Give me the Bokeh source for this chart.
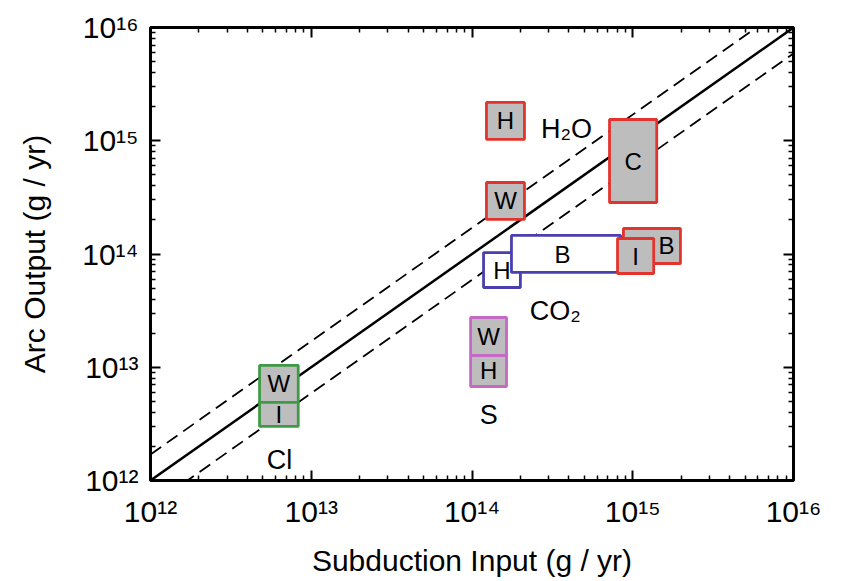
from bokeh.plotting import figure
from bokeh.models import FixedTicker, LogAxis, ColumnDataSource
from bokeh.core.properties import value
from bokeh.embed import file_html
from bokeh.resources import INLINE

# ---- axis ticks ----
decades = [1e12, 1e13, 1e14, 1e15, 1e16]
tick_labels = ["10¹²", "10¹³", "10¹⁴", "10¹⁵", "10¹⁶"]
minor_ticks = [m * d for d in decades[:-1] for m in range(2, 10)]

# ---- reference lines (arc output = subduction input, and x/÷ 1.7) ----
line_x = [1e12, 1e16]
line_y = [1e12, 1e16]
upper_y = [1.7e12, 1.7e16]
lower_y = [5.9e11, 5.9e15]

# ---- flux boxes (subduction input range x arc output range) ----
box_group = ["Cl", "Cl", "S", "S", "H2O", "H2O", "H2O", "CO2", "CO2", "H2O", "H2O"]
box_letter = ["W", "I", "W", "H", "H", "W", "C", "H", "B", "B", "I"]
box_left = [4.77e12, 4.77e12, 9.8e13, 9.8e13, 1.23e14, 1.23e14, 7.17e14, 1.18e14, 1.76e14, 8.75e14, 8.04e14]
box_right = [8.3e12, 8.3e12, 1.64e14, 1.64e14, 2.12e14, 2.12e14, 1.41e15, 2.0e14, 8.4e14, 1.98e15, 1.35e15]
box_bottom = [4.89e12, 3.0e12, 1.27e13, 6.76e12, 1.03e15, 2.02e14, 2.85e14, 5.06e13, 6.87e13, 8.24e13, 6.73e13]
box_top = [1.04e13, 4.89e12, 2.75e13, 1.27e13, 2.18e15, 4.28e14, 1.54e15, 1.03e14, 1.46e14, 1.68e14, 1.37e14]
label_x = [6.29e12, 6.29e12, 1.27e14, 1.27e14, 1.615e14, 1.615e14, 1.005e15, 1.536e14, 3.66e14, 1.62e15, 1.04e15]
label_y = [7.13e12, 3.83e12, 1.87e13, 9.27e12, 1.50e15, 2.94e14, 6.62e14, 7.22e13, 1.0e14, 1.19e14, 9.6e13]

group_names = ["H₂O", "CO₂", "S", "Cl"]
group_x = [3.87e14, 3.30e14, 1.27e14, 6.34e12]
group_y = [1.28e15, 3.11e13, 3.75e12, 1.53e12]

edge_colors = {"Cl": "#3f9a45", "S": "#c46ac4", "H2O": "#e2342d", "CO2": "#4a3fae"}
fill_colors = {"Cl": "#bdbdbd", "S": "#bdbdbd", "H2O": "#bdbdbd", "CO2": "#ffffff"}

FONT = value("Liberation Sans")

p = figure(frame_width=643, frame_height=453,
           x_axis_type="log", y_axis_type="log",
           x_range=(1e12, 1e16), y_range=(1e12, 1e16),
           output_backend="svg", toolbar_location=None,
           min_border_left=150, min_border_right=42,
           min_border_top=27, min_border_bottom=93,
           x_axis_label="Subduction Input (g / yr)",
           y_axis_label="Arc Output (g / yr)")
p.grid.visible = False
p.outline_line_color = "black"
p.outline_line_width = 3
p.background_fill_color = "white"
p.border_fill_color = "white"

overrides = dict(zip(decades, tick_labels))


def style_axis(ax, labels=True):
    ax.ticker = FixedTicker(ticks=decades, minor_ticks=minor_ticks)
    ax.axis_line_color = None
    ax.major_tick_in = 10
    ax.major_tick_out = 0
    ax.minor_tick_in = 5
    ax.minor_tick_out = 0
    ax.major_tick_line_width = 2
    ax.minor_tick_line_width = 1.5
    ax.major_tick_line_color = "black"
    ax.minor_tick_line_color = "black"
    if labels:
        ax.major_label_overrides = overrides
        ax.major_label_text_font = "Liberation Sans"
        ax.major_label_text_font_size = "30px"
        ax.major_label_text_color = "black"
        ax.axis_label_text_font = "Liberation Sans"
        ax.axis_label_text_font_size = "30px"
        ax.axis_label_text_font_style = "normal"
        ax.axis_label_text_color = "black"
    else:
        ax.major_label_text_color = None
        ax.major_label_text_font_size = "1px"
        ax.major_label_standoff = 0


style_axis(p.xaxis[0])
style_axis(p.yaxis[0])
p.xaxis[0].major_label_standoff = 14
p.xaxis[0].axis_label_standoff = 13
p.yaxis[0].major_label_standoff = 12
p.yaxis[0].axis_label_standoff = 28

top_ax = LogAxis()
right_ax = LogAxis()
style_axis(top_ax, labels=False)
style_axis(right_ax, labels=False)
p.add_layout(top_ax, "above")
p.add_layout(right_ax, "right")

# reference lines
p.line(line_x, line_y, line_color="black", line_width=2.5)
p.line(line_x, upper_y, line_color="black", line_width=1.8, line_dash="13 7")
p.line(line_x, lower_y, line_color="black", line_width=1.8, line_dash="13 7")

src = ColumnDataSource(dict(
    left=box_left, right=box_right, bottom=box_bottom, top=box_top,
    edge=[edge_colors[g] for g in box_group],
    fill=[fill_colors[g] for g in box_group],
    lx=label_x, ly=label_y, letter=box_letter,
))
p.quad(left="left", right="right", bottom="bottom", top="top", source=src,
       fill_color="fill", line_color="edge", line_width=2.8)
p.text(x="lx", y="ly", text="letter", source=src, text_font=FONT,
       text_font_size="24px", text_align="center", text_baseline="middle",
       text_color="black")

p.text(x=group_x, y=group_y, text=group_names, text_font=FONT,
       text_font_size="27px", text_align="center", text_baseline="alphabetic",
       text_color="black")

open("out.html", "w").write(file_html(p, INLINE))
